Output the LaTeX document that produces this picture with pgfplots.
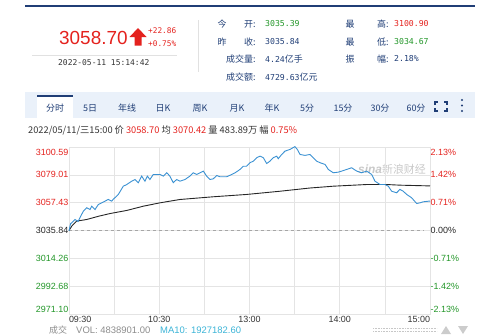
\documentclass[border=0pt]{standalone}
\usepackage{pgfplots}
\pgfplotsset{compat=1.18}
\usepackage{fontspec}
\setmainfont{Liberation Sans}
\newfontfamily\cjk{Noto Sans CJK SC}
\newfontfamily\mono{DejaVu Sans Mono}
\definecolor{navy}{RGB}{32,62,118}
\definecolor{upred}{RGB}{228,34,30}
\definecolor{dngreen}{RGB}{34,150,40}
\definecolor{priceblue}{RGB}{58,145,210}
\definecolor{gridc}{RGB}{228,228,228}
\definecolor{tabbg}{RGB}{234,241,250}
\definecolor{txt}{RGB}{51,51,51}
\definecolor{macol}{RGB}{60,180,215}
\definecolor{wm}{RGB}{200,200,200}
\definecolor{sep}{RGB}{225,225,225}
\newcommand{\fs}[1]{\fontsize{#1}{#1}\selectfont}
\begin{document}
\begin{tikzpicture}
\useasboundingbox (0,0) rectangle (500bp,-336bp);
\begin{scope}[x=1bp,y=-1bp]
% top rule
\draw[navy,line width=1.4bp] (25,6) -- (475,6);
% big price
\node[anchor=base west,inner sep=0pt,text=upred] at (59,44.5) {\fs{19}3058.70};
\fill[upred] (129.5,37) -- (138,28) -- (146.5,37) -- (141.5,37) -- (141.5,45.5) -- (134.5,45.5) -- (134.5,37) -- cycle;
\node[anchor=west,inner sep=0pt,text=upred] at (148,30.7) {\mono\fs{7.8}+22.86};
\node[anchor=west,inner sep=0pt,text=upred] at (148,43.3) {\mono\fs{7.8}+0.75\%};
\draw[sep] (32,55) -- (177,55);
\node[anchor=west,inner sep=0pt,text=txt] at (58,63) {\mono\fs{8}2022-05-11 15:14:42};
\draw[sep] (198,20) -- (198,72);
% quote labels
\foreach \yy/\a/\b in {24/今/开:,42/昨/收:}{
  \node[text=navy,inner sep=0pt] at (222,\yy) {\cjk\fs{9}\a};
  \node[anchor=west,text=navy,inner sep=0pt] at (244,\yy) {\cjk\fs{9}\b};
}
\node[anchor=west,text=navy,inner sep=0pt] at (226,59) {\cjk\fs{9}成交量:};
\node[anchor=west,text=navy,inner sep=0pt] at (226,77) {\cjk\fs{9}成交额:};
\node[anchor=west,text=dngreen,inner sep=0pt] at (265,24) {\mono\fs{8.2}3035.39};
\node[anchor=west,text=navy,inner sep=0pt] at (265,42) {\mono\fs{8.2}3035.84};
\node[anchor=west,text=navy,inner sep=0pt] at (265,59) {\mono\fs{8.2}4.24{\cjk\fs{9}亿手}};
\node[anchor=west,text=navy,inner sep=0pt] at (265,77) {\mono\fs{8.2}4729.63{\cjk\fs{9}亿元}};
\foreach \yy/\b in {24/高:,42/低:}{
  \node[text=navy,inner sep=0pt] at (350,\yy) {\cjk\fs{9}最};
  \node[anchor=west,text=navy,inner sep=0pt] at (377,\yy) {\cjk\fs{9}\b};
}
\node[text=navy,inner sep=0pt] at (350,59) {\cjk\fs{9}振};
\node[anchor=west,text=navy,inner sep=0pt] at (377,59) {\cjk\fs{9}幅:};
\node[anchor=west,text=upred,inner sep=0pt] at (394,24) {\mono\fs{8.2}3100.90};
\node[anchor=west,text=dngreen,inner sep=0pt] at (394,42) {\mono\fs{8.2}3034.67};
\node[anchor=west,text=navy,inner sep=0pt] at (394,59) {\mono\fs{8.2}2.18\%};
% tab bar
\fill[tabbg] (25,92) rectangle (475,118);
\fill[white] (37,96) rectangle (73,118);
\draw[navy,line width=1.2bp] (37,96) -- (73,96);
\foreach \xx/\t in {55/分时,90/5日,127/年线,163/日K,200/周K,237/月K,272/年K,307/5分,343/15分,380/30分,416/60分}{
  \node[text=navy,inner sep=0pt] at (\xx,108) {\cjk\fs{9}\t};
}
\draw[navy,line width=1.3bp] (435,105) -- (435,102) -- (438,102) (444,102) -- (447,102) -- (447,105)
  (447,108) -- (447,111) -- (444,111) (438,111) -- (435,111) -- (435,108);
\foreach \yy in {100,105.5,111}{\fill[navy] (462,\yy) circle (1.2);}
% info line
\node[anchor=west,inner sep=0pt,text=txt] at (28,130) {\cjk\fs{9.3}2022/05/11/三15:00 价 \textcolor{upred}{3058.70} 均 \textcolor{upred}{3070.42} 量 483.89万 幅 \textcolor{upred}{0.75\%}};
% watermark
\node[text=wm,inner sep=0pt] at (392,169) {\fs{12}\textit{\textbf{sina}}{\cjk\fs{11}\textit{新浪财经}}};
% bottom
\node[anchor=west,inner sep=0pt,text=black!45] at (49,330) {\cjk\fs{9}成交};
\node[anchor=west,inner sep=0pt,text=black!45] at (76,330) {\fs{9.5}VOL: 4838901.00};
\node[anchor=west,inner sep=0pt,text=macol] at (160,330) {\fs{9.5}MA10: 1927182.60};
\draw[black!22,line width=0.8bp,dash pattern=on 0.8bp off 0.8bp] (373,328) -- (437,328) (373,331) -- (437,331);
\fill[black!20] (441,334) -- (446,326) -- (451,334) -- cycle;
\fill[black!20] (458,326) -- (468,326) -- (463,334) -- cycle;
\end{scope}

\begin{axis}[
  at={(69bp,-314bp)}, anchor=south west,
  scale only axis, width=361bp, height=167bp,
  xmin=0, xmax=240, ymin=2971.10, ymax=3100.59,
  xtick={0,60,120,180,240},
  xticklabels={\makebox[0pt][l]{09:30},10:30,13:00,14:00,\makebox[0pt][r]{15:00}},
  minor xtick={30,90,150,210},
  ytick={2971.10,2992.68,3014.26,3035.84,3057.43,3079.01,3100.59},
  yticklabels={
    \textcolor{dngreen}{\raisebox{5bp}[\height][\depth]{2971.10}},
    \textcolor{dngreen}{2992.68},
    \textcolor{dngreen}{3014.26},
    \textcolor{black!85}{3035.84},
    \textcolor{upred}{3057.43},
    \textcolor{upred}{3079.01},
    \textcolor{upred}{\raisebox{-5bp}[\height][\depth]{3100.59}}},
  grid=both, grid style={gridc,line width=0.6bp}, minor grid style={gridc,line width=0.6bp},
  axis line style={draw=gridc,line width=0.6bp},
  major tick length=0pt, minor tick length=0pt,
  tick label style={font=\fs{9}},
  xticklabel style={text=txt,inner sep=1bp,yshift=-1bp},
  yticklabel style={inner sep=0.5bp,xshift=0bp},
  clip=false,
]
\addplot[black!35,line width=0.7bp,dash pattern=on 3bp off 3bp] coordinates {(0,3035.84) (236,3035.84)};
\addplot[black!85,line width=0.9bp] coordinates {
(0,3035.84) (2,3039.5) (5,3043.1) (11.8,3044.4) (20,3047.0) (27.3,3049.0) (38.4,3051.4)
(49.4,3054.7) (60.5,3057.3) (73.8,3059.9) (95.9,3062.0) (118.1,3063.8) (140.3,3066.3)
(160.2,3068.8) (175.7,3070.2) (197.9,3071.5) (211.2,3071.5) (220,3071.0) (240,3070.42)};
\addplot[priceblue,line width=0.9bp] coordinates {
(0,3035.5) (1,3041.0) (4,3044.4) (6,3042.8) (9.5,3050.8) (11.8,3053.5) (14,3052.1)
(15.1,3054.7) (17.3,3052.1) (19.5,3056.0) (21.7,3057.3) (23.9,3058.6) (26.1,3059.9)
(28.4,3058.6) (29.3,3059.9) (32.8,3063.8) (36.1,3070.2) (38.4,3071.5) (41.7,3074.1)
(43.9,3075.4) (46.1,3072.9) (48.3,3078.0) (50.5,3074.1) (52.1,3078.0) (53.8,3075.4)
(56.0,3079.3) (58.3,3079.3) (60.5,3079.3) (62.7,3078.0) (65.0,3080.6) (67.1,3078.0)
(69.3,3072.9) (71.6,3075.4) (73.8,3074.1) (77.1,3075.4) (80.4,3078.0) (82.6,3080.6)
(84.9,3079.3) (87.1,3080.6) (89.3,3081.9) (91.5,3078.0) (93.7,3075.4) (95.9,3075.9)
(98.2,3078.5) (100.4,3077.5) (104.8,3077.5) (108.2,3079.3) (110.4,3080.6) (113.7,3083.2)
(115.9,3085.7) (118.1,3085.7) (120.3,3088.4) (122.5,3089.6) (124.8,3092.3) (127.0,3093.5)
(129.2,3092.3) (131.4,3087.8) (133.6,3089.6) (135.8,3092.3) (138.1,3093.5) (139.1,3091.5)
(141.4,3094.8) (143.6,3097.4) (146.9,3098.7) (150.2,3100.9) (151.8,3098.7) (153.6,3094.8)
(156.9,3094.1) (160.2,3094.8) (162.4,3092.3) (164.7,3089.6) (166.9,3088.4) (170.2,3087.1)
(172.4,3083.2) (175.7,3080.6) (179.0,3081.1) (181.3,3081.9) (184.6,3083.2) (187.9,3084.5)
(191.3,3081.9) (194.6,3080.6) (197.9,3081.9) (201.2,3079.3) (203.4,3074.1) (206.8,3071.5)
(210.1,3071.5) (212.3,3070.2) (214.5,3066.3) (217.8,3065.1) (220.0,3067.7) (222.2,3066.3)
(224.5,3063.8) (227.8,3061.2) (231.1,3056.8) (233.3,3057.3) (235.5,3058.1) (240,3058.7)};
\end{axis}

\begin{axis}[
  at={(69bp,-314bp)}, anchor=south west,
  scale only axis, width=361bp, height=167bp,
  xmin=0, xmax=240, ymin=2971.10, ymax=3100.59,
  axis x line=none, axis y line*=right,
  y axis line style={draw=none},
  ytick={2971.10,2992.68,3014.26,3035.84,3057.43,3079.01,3100.59},
  yticklabels={
    \textcolor{dngreen}{\raisebox{5bp}[\height][\depth]{-2.13\%}},
    \textcolor{dngreen}{-1.42\%},
    \textcolor{dngreen}{-0.71\%},
    \textcolor{black!85}{0.00\%},
    \textcolor{upred}{0.71\%},
    \textcolor{upred}{1.42\%},
    \textcolor{upred}{\raisebox{-5bp}[\height][\depth]{2.13\%}}},
  major tick length=0pt,
  tick label style={font=\fs{9}},
  yticklabel style={inner sep=0.5bp,anchor=west},
]
\addplot[draw=none] coordinates {(0,3035.84)};
\end{axis}
\end{tikzpicture}
\end{document}
